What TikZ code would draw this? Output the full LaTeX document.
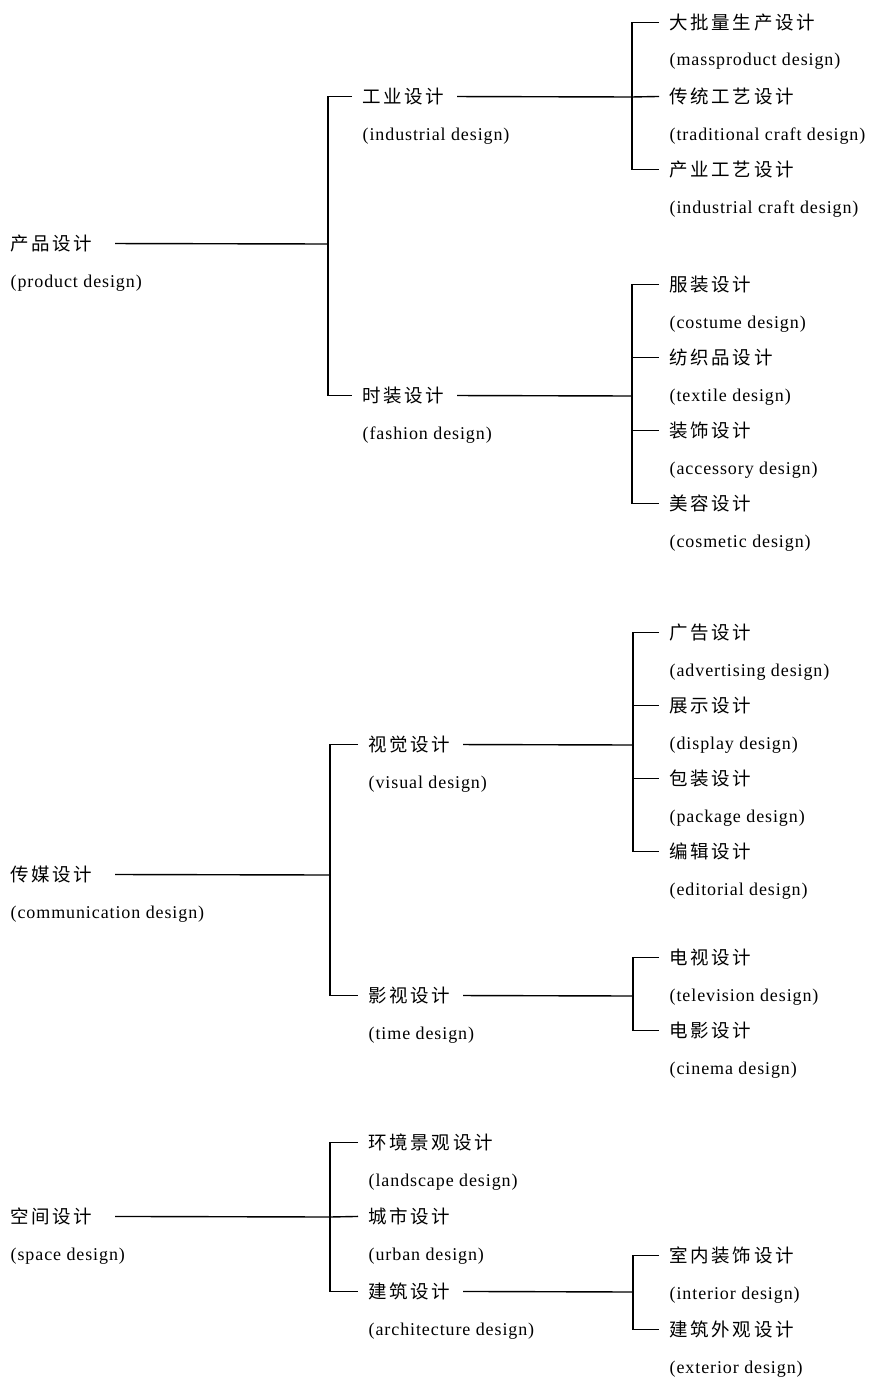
\documentclass[tikz,border=0pt]{standalone}
\usepackage{fontspec}
\setmainfont{Liberation Serif}[LetterSpace=5]
\newfontfamily\zhfont{Noto Sans CJK SC}[LetterSpace=14]
\begin{document}
\begin{tikzpicture}[x=1pt,y=-1pt,line width=1.4pt,
    zh/.style={anchor=base west,inner sep=0pt,yshift=-6.5pt,font=\zhfont\fontsize{18.5}{18}\selectfont},
    en/.style={anchor=base west,inner sep=0pt,yshift=-5pt,font=\fontsize{18}{18}\selectfont}]
    \useasboundingbox (0,0) rectangle (876,1378);
    \foreach \n/\x/\y/\zh/\en in {
        prod/10/244/产品设计/product design,
        ind/362/97/工业设计/industrial design,
        fash/362/396/时装设计/fashion design,
        mass/669/23/大批量生产设计/massproduct design,
        trad/669/97/传统工艺设计/traditional craft design,
        icraft/669/170/产业工艺设计/industrial craft design,
        cost/669/285/服装设计/costume design,
        textile/669/358/纺织品设计/textile design,
        acc/669/431/装饰设计/accessory design,
        cosm/669/504/美容设计/cosmetic design,
        comm/10/875/传媒设计/communication design,
        vis/368/745/视觉设计/visual design,
        time/368/996/影视设计/time design,
        adv/669/633/广告设计/advertising design,
        disp/669/706/展示设计/display design,
        pack/669/779/包装设计/package design,
        edit/669/852/编辑设计/editorial design,
        tv/669/958/电视设计/television design,
        cine/669/1031/电影设计/cinema design,
        space/10/1217/空间设计/space design,
        land/368/1143/环境景观设计/landscape design,
        urban/368/1217/城市设计/urban design,
        arch/368/1292/建筑设计/architecture design,
        inter/669/1256/室内装饰设计/interior design,
        ext/669/1330/建筑外观设计/exterior design}{
        \node[zh] (\n) at (\x,\y) {\zh};
        \node[en] (\n-en) at (\x,\y+38) {(\en)};
    }
    \coordinate (j1) at (328,244);
    \coordinate (j2) at (632,97);
    \coordinate (j3) at (632,396);
    \coordinate (j4) at (330,875);
    \coordinate (j5) at (633,745);
    \coordinate (j6) at (633,996);
    \coordinate (j7) at (330,1217);
    \coordinate (j8) at (633,1292);
    \draw ([xshift=22pt]prod.east) -- (j1);
    \draw ([xshift=-10pt]ind.west) -| (j1) |- ([xshift=-10pt]fash.west);
    \draw ([xshift=12pt]ind.east) -- (j2);
    \draw ([xshift=-10pt]mass.west) -| (j2) |- ([xshift=-10pt]icraft.west);
    \draw (j2) -- ([xshift=-10pt]trad.west);
    \draw ([xshift=12pt]fash.east) -- (j3);
    \draw ([xshift=-10pt]cost.west) -| (j3) |- ([xshift=-10pt]cosm.west);
    \draw (j3 |- textile.west) -- ([xshift=-10pt]textile.west);
    \draw (j3 |- acc.west) -- ([xshift=-10pt]acc.west);
    \draw ([xshift=22pt]comm.east) -- (j4);
    \draw ([xshift=-10pt]vis.west) -| (j4) |- ([xshift=-10pt]time.west);
    \draw ([xshift=12pt]vis.east) -- (j5);
    \draw ([xshift=-10pt]adv.west) -| (j5) |- ([xshift=-10pt]edit.west);
    \draw (j5 |- disp.west) -- ([xshift=-10pt]disp.west);
    \draw (j5 |- pack.west) -- ([xshift=-10pt]pack.west);
    \draw ([xshift=12pt]time.east) -- (j6);
    \draw ([xshift=-10pt]tv.west) -| (j6) |- ([xshift=-10pt]cine.west);
    \draw ([xshift=22pt]space.east) -- (j7);
    \draw ([xshift=-10pt]land.west) -| (j7) |- ([xshift=-10pt]arch.west);
    \draw (j7) -- ([xshift=-10pt]urban.west);
    \draw ([xshift=12pt]arch.east) -- (j8);
    \draw ([xshift=-10pt]inter.west) -| (j8) |- ([xshift=-10pt]ext.west);
\end{tikzpicture}
\end{document}
